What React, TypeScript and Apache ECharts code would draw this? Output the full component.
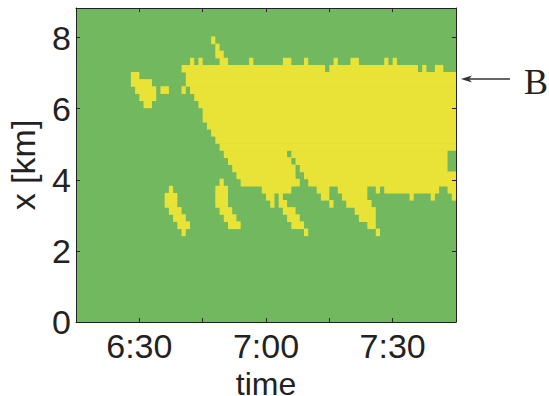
import React, { useEffect, useRef } from "react";
import * as echarts from "echarts";

// ---- axis setup (minutes counted from 6:15, distance in km) ----
const TIME_START_MIN = 6 * 60 + 15;
const TIME_SPAN_MIN = 90;
const X_TICK_STEP_MIN = 15;
const X_TICK_LABELS = ["6:30", "7:00", "7:30"];
const KM_MAX = 8.83;
const KM_TICK_STEP = 2;
const Y_TICK_LABELS = ["0", "2", "4", "6", "8"];

// ---- grid cells: 1 minute x 0.2 km ----
const MINUTE_STEP = 1;
const KM_STEP = 0.2;
const KM_OFFSET = 0.03;

// yellow state runs: [row index (km / 0.2), first minute, last minute]
const yellowRuns: [number, number, number][] = [
  [39, 32, 32],
  [38, 33, 33],
  [37, 33, 34],
  [36, 27, 27], [36, 29, 29], [36, 34, 35], [36, 41, 41], [36, 49, 50], [36, 54, 54],
  [36, 61, 61], [36, 65, 66], [36, 73, 73], [36, 75, 75],
  [35, 25, 58], [35, 60, 80], [35, 82, 82], [35, 85, 86],
  [34, 13, 14], [34, 26, 89],
  [33, 13, 17], [33, 26, 89],
  [32, 14, 18], [32, 20, 21], [32, 25, 25], [32, 27, 89],
  [31, 15, 18], [31, 28, 89],
  [30, 16, 17], [30, 29, 89],
  [29, 30, 89],
  [28, 30, 89],
  [27, 31, 89],
  [26, 32, 89],
  [25, 33, 89],
  [24, 34, 89],
  [23, 35, 49], [23, 51, 87],
  [22, 36, 50], [22, 52, 87],
  [21, 37, 51], [21, 53, 87],
  [20, 38, 51], [20, 54, 89],
  [19, 34, 34], [19, 39, 52], [19, 55, 89],
  [18, 22, 22], [18, 33, 35], [18, 44, 50], [18, 57, 59], [18, 62, 68], [18, 71, 71],
  [18, 73, 85], [18, 88, 89],
  [17, 21, 23], [17, 33, 35], [17, 45, 46], [17, 48, 48], [17, 58, 59], [17, 63, 68],
  [17, 79, 79], [17, 84, 84], [17, 89, 89],
  [16, 21, 23], [16, 33, 35], [16, 46, 46], [16, 48, 49], [16, 60, 60], [16, 64, 69],
  [15, 22, 24], [15, 34, 36], [15, 49, 51], [15, 66, 70],
  [14, 23, 25], [14, 35, 37], [14, 50, 52], [14, 67, 70],
  [13, 24, 26], [13, 36, 38], [13, 51, 53], [13, 69, 70],
  [12, 25, 25], [12, 54, 54], [12, 71, 71],
];

const GREEN = "#72b85f";
const YELLOW = "#e9e337";
const INK = "#222222";
const FONT = "Liberation Sans, Arial, sans-serif";

function fmtTime(v: number): string {
  const t = TIME_START_MIN + v;
  const h = Math.floor(t / 60);
  const m = t % 60;
  return `${h}:${m < 10 ? "0" + m : m}`;
}

export default function App() {
  const ref = useRef<HTMLDivElement>(null);

  useEffect(() => {
    if (!ref.current) return;
    const chart = echarts.init(ref.current, undefined, { renderer: "svg" });

    const data = yellowRuns.map(([row, c0, c1]) => [
      c0 * MINUTE_STEP,
      (c1 + 1) * MINUTE_STEP,
      row * KM_STEP + KM_OFFSET,
    ]);

    const axisLine = { show: true, onZero: false, lineStyle: { color: INK, width: 1 } };
    const tick = { show: true, inside: true, length: 4, lineStyle: { color: INK, width: 1 } };

    chart.setOption({
      animation: false,
      grid: {
        left: 76,
        top: 8,
        right: 93,
        bottom: 74,
        show: true,
        backgroundColor: GREEN,
        borderWidth: 0,
        containLabel: false,
        outerBoundsMode: "none",
      },
      xAxis: [
        {
          type: "value",
          min: 0,
          max: TIME_SPAN_MIN,
          interval: X_TICK_STEP_MIN,
          position: "bottom",
          z: 10,
          axisLine,
          axisTick: tick,
          splitLine: { show: false },
          axisLabel: {
            margin: 7,
            fontSize: 34,
            fontFamily: FONT,
            color: INK,
            formatter: (v: number) => {
              const s = fmtTime(v);
              return X_TICK_LABELS.includes(s) ? s : "";
            },
          },
          name: "time",
          nameLocation: "middle",
          nameGap: 36,
          nameTextStyle: { fontSize: 32, lineHeight: 32, fontFamily: FONT, color: INK },
        },
        {
          type: "value",
          min: 0,
          max: TIME_SPAN_MIN,
          interval: X_TICK_STEP_MIN,
          position: "top",
          z: 10,
          axisLine,
          axisTick: tick,
          splitLine: { show: false },
          axisLabel: { show: false },
        },
      ],
      yAxis: [
        {
          type: "value",
          min: 0,
          max: KM_MAX,
          interval: KM_TICK_STEP,
          position: "left",
          z: 10,
          axisLine,
          axisTick: tick,
          splitLine: { show: false },
          axisLabel: {
            margin: 5,
            fontSize: 34,
            fontFamily: FONT,
            color: INK,
            formatter: (v: number) => {
              const s = String(v);
              return Y_TICK_LABELS.includes(s) ? s : "";
            },
          },
          name: "x [km]",
          nameLocation: "middle",
          nameGap: 36,
          nameRotate: 90,
          nameTextStyle: { fontSize: 34, fontFamily: FONT, color: INK },
        },
        {
          type: "value",
          min: 0,
          max: KM_MAX,
          interval: KM_TICK_STEP,
          position: "right",
          z: 10,
          axisLine,
          axisTick: tick,
          splitLine: { show: false },
          axisLabel: { show: false },
        },
      ],
      series: [
        {
          type: "custom",
          xAxisIndex: 0,
          yAxisIndex: 0,
          z: 2,
          clip: true,
          data,
          encode: { x: [0, 1], y: 2 },
          renderItem: (params: any, api: any) => {
            const x0 = api.value(0);
            const x1 = api.value(1);
            const y0 = api.value(2);
            const p0 = api.coord([x0, y0 + KM_STEP]);
            const p1 = api.coord([x1, y0]);
            return {
              type: "rect",
              shape: {
                x: p0[0],
                y: p0[1],
                width: p1[0] - p0[0],
                height: p1[1] - p0[1] + 0.6,
              },
              style: { fill: YELLOW },
            };
          },
        },
      ],
      graphic: [
        {
          type: "line",
          shape: { x1: 510, y1: 79, x2: 466, y2: 79 },
          style: { stroke: "#333", lineWidth: 1.5 },
        },
        {
          type: "polygon",
          shape: { points: [[461, 79], [472, 75.5], [469, 79], [472, 82.5]] },
          style: { fill: "#333" },
        },
        {
          type: "text",
          x: 524,
          y: 82,
          style: {
            text: "B",
            font: "36px 'Liberation Serif', 'Times New Roman', serif",
            fill: INK,
            textVerticalAlign: "middle",
          },
        },
      ],
    });

    return () => chart.dispose();
  }, []);

  return (
    <div
      ref={ref}
      style={{ position: "absolute", left: 0, top: 0, width: 549, height: 396 }}
    />
  );
}
